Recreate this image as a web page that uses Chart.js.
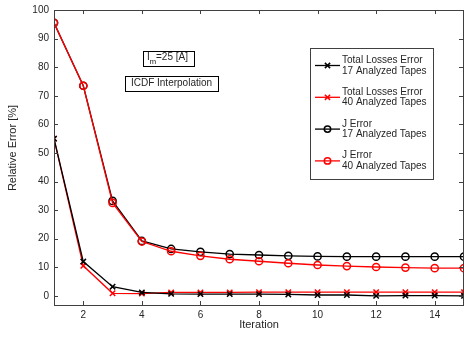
<!DOCTYPE html>
<html>
<head>
<meta charset="utf-8">
<script src="https://cdn.jsdelivr.net/npm/chart.js@4/dist/chart.umd.min.js"></script>
<style>
  html, body { margin: 0; padding: 0; background: #fff; }
  #wrap { width: 464px; height: 341px; }
</style>
</head>
<body>
<div id="wrap"><canvas id="errChart" width="464" height="341"></canvas></div>
<script>
// data
const iterations = [1, 2, 3, 4, 5, 6, 7, 8, 9, 10, 11, 12, 13, 14, 15];
const tlErr17 = [55, 12, 3.2, 1.2, 0.7, 0.6, 0.6, 0.6, 0.5, 0.3, 0.3, 0.0, 0.1, 0.1, 0.0];
const tlErr40 = [55, 10.5, 0.9, 0.8, 1.2, 1.2, 1.2, 1.3, 1.3, 1.3, 1.3, 1.3, 1.3, 1.3, 1.3];
const jErr17 = [95.5, 73.5, 33.2, 19.2, 16.4, 15.4, 14.6, 14.3, 14.0, 13.8, 13.7, 13.7, 13.7, 13.7, 13.7];
const jErr40 = [95.5, 73.5, 32.5, 19.0, 15.6, 14.0, 12.8, 12.1, 11.4, 10.8, 10.4, 10.1, 9.9, 9.7, 9.7];

const xTicks = [2, 4, 6, 8, 10, 12, 14];
const yTicks = [0, 10, 20, 30, 40, 50, 60, 70, 80, 90, 100];

const FONT = "'Liberation Sans', Arial, sans-serif";
const AXIS_COLOR = "#404040";
const TEXT_COLOR = "#262626";

function pts(ys) {
  return ys.map((y, i) => ({ x: iterations[i], y }));
}

function makeSet(label, ys, color, marker, order) {
  return {
    label,
    data: pts(ys),
    borderColor: color,
    backgroundColor: "rgba(0,0,0,0)",
    borderWidth: 1.3,
    pointStyle: marker,
    pointRadius: marker === "circle" ? 3.6 : 3.8,
    pointBorderWidth: 1.5,
    pointBorderColor: color,
    pointBackgroundColor: "rgba(0,0,0,0)",
    tension: 0,
    order
  };
}

// ---- frame, inward ticks, y title, annotation boxes and legend ----
const framePlugin = {
  id: "frame",
  afterDraw(chart) {
    const { ctx, chartArea: a, scales } = chart;
    const xs = scales.x, ys = scales.y;
    ctx.save();
    ctx.strokeStyle = AXIS_COLOR;
    ctx.lineWidth = 1;
    ctx.strokeRect(Math.round(a.left) + 0.5, Math.round(a.top) + 0.5,
      Math.round(a.right - a.left) - 1, Math.round(a.bottom - a.top));
    const tl = 4;
    ctx.beginPath();
    xTicks.forEach(v => {
      const px = Math.round(xs.getPixelForValue(v)) + 0.5;
      ctx.moveTo(px, a.bottom); ctx.lineTo(px, a.bottom - tl);
      ctx.moveTo(px, a.top); ctx.lineTo(px, a.top + tl);
    });
    yTicks.forEach(v => {
      const py = Math.round(ys.getPixelForValue(v)) + 0.5;
      ctx.moveTo(a.left, py); ctx.lineTo(a.left + tl, py);
      ctx.moveTo(a.right, py); ctx.lineTo(a.right - 5, py);
    });
    ctx.stroke();

    // y axis title
    ctx.fillStyle = TEXT_COLOR;
    ctx.font = "11px " + FONT;
    ctx.textAlign = "center";
    ctx.textBaseline = "middle";
    ctx.save();
    ctx.translate(13, 148);
    ctx.rotate(-Math.PI / 2);
    ctx.fillText("Relative Error [%]", 0, 0);
    ctx.restore();

    // annotation boxes
    ctx.font = "10px " + FONT;
    // I_m = 25 [A]
    ctx.fillStyle = "#fff";
    ctx.fillRect(143, 51, 51, 15);
    ctx.strokeStyle = "#000";
    ctx.strokeRect(143.5, 51.5, 51, 15);
    ctx.fillStyle = TEXT_COLOR;
    ctx.textAlign = "left";
    ctx.fillText("I", 147, 57);
    ctx.font = "8px " + FONT;
    ctx.fillText("m", 149.5, 62);
    ctx.font = "10px " + FONT;
    ctx.fillText("=25 [A]", 156, 57.5);
    // ICDF Interpolation
    ctx.fillStyle = "#fff";
    ctx.fillRect(125, 76, 93, 15);
    ctx.strokeRect(125.5, 76.5, 93, 15);
    ctx.fillStyle = TEXT_COLOR;
    ctx.textAlign = "center";
    ctx.fillText("ICDF Interpolation", 171.5, 83.5);

    // legend
    const lx = 310, ly = 48, lw = 123, lh = 131;
    ctx.fillStyle = "#fff";
    ctx.fillRect(lx, ly, lw, lh);
    ctx.strokeStyle = AXIS_COLOR;
    ctx.strokeRect(lx + 0.5, ly + 0.5, lw, lh);
    chart.data.datasets.forEach((ds, i) => {
      const cy = ly + 17.5 + i * 31.8;
      ctx.strokeStyle = ds.borderColor;
      ctx.lineWidth = 1.3;
      ctx.beginPath();
      ctx.moveTo(lx + 5, cy); ctx.lineTo(lx + 30, cy);
      ctx.stroke();
      ctx.lineWidth = 1.5;
      ctx.beginPath();
      if (ds.pointStyle === "circle") {
        ctx.arc(lx + 17.5, cy, 3.2, 0, Math.PI * 2);
      } else {
        const r = 2.6;
        ctx.moveTo(lx + 17.5 - r, cy - r); ctx.lineTo(lx + 17.5 + r, cy + r);
        ctx.moveTo(lx + 17.5 - r, cy + r); ctx.lineTo(lx + 17.5 + r, cy - r);
      }
      ctx.stroke();
      ctx.fillStyle = TEXT_COLOR;
      ctx.textAlign = "left";
      ctx.font = "10px " + FONT;
      ds.label.split("\n").forEach((line, k) => {
        ctx.fillText(line, lx + 32, cy - 5.3 + k * 10.7);
      });
    });
    ctx.restore();
  }
};

new Chart(document.getElementById("errChart"), {
  type: "line",
  data: {
    datasets: [
      makeSet("Total Losses Error\n17 Analyzed Tapes", tlErr17, "#000000", "crossRot", 2),
      makeSet("Total Losses Error\n40 Analyzed Tapes", tlErr40, "#ff0000", "crossRot", 3),
      makeSet("J Error\n17 Analyzed Tapes", jErr17, "#000000", "circle", 4),
      makeSet("J Error\n40 Analyzed Tapes", jErr40, "#ff0000", "circle", 1)
    ]
  },
  options: {
    responsive: false,
    animation: false,
    layout: { autoPadding: false, padding: { top: 10, right: 0, left: 0, bottom: 0 } },
    plugins: {
      legend: { display: false },
      tooltip: { enabled: false }
    },
    scales: {
      x: {
        type: "linear",
        min: 1,
        max: 15,
        afterBuildTicks: s => { s.ticks = xTicks.map(v => ({ value: v })); },
        afterFit: s => { s.height = 36; s.paddingLeft = 0; s.paddingRight = 0; },
        grid: { display: false, drawTicks: false },
        border: { display: false },
        ticks: { color: TEXT_COLOR, font: { family: FONT, size: 10 }, padding: 4, maxRotation: 0 },
        title: {
          display: true, text: "Iteration", color: TEXT_COLOR,
          font: { family: FONT, size: 11 }, padding: { top: 0, bottom: 9 }
        }
      },
      y: {
        min: -3.2,
        max: 100,
        afterBuildTicks: s => { s.ticks = yTicks.map(v => ({ value: v })); },
        afterFit: s => { s.width = 54; s.paddingTop = 0; s.paddingBottom = 0; },
        grid: { display: false, drawTicks: false },
        border: { display: false },
        ticks: { color: TEXT_COLOR, font: { family: FONT, size: 10 }, padding: 5 },
        title: { display: false }
      }
    }
  },
  plugins: [framePlugin]
});
</script>
</body>
</html>
